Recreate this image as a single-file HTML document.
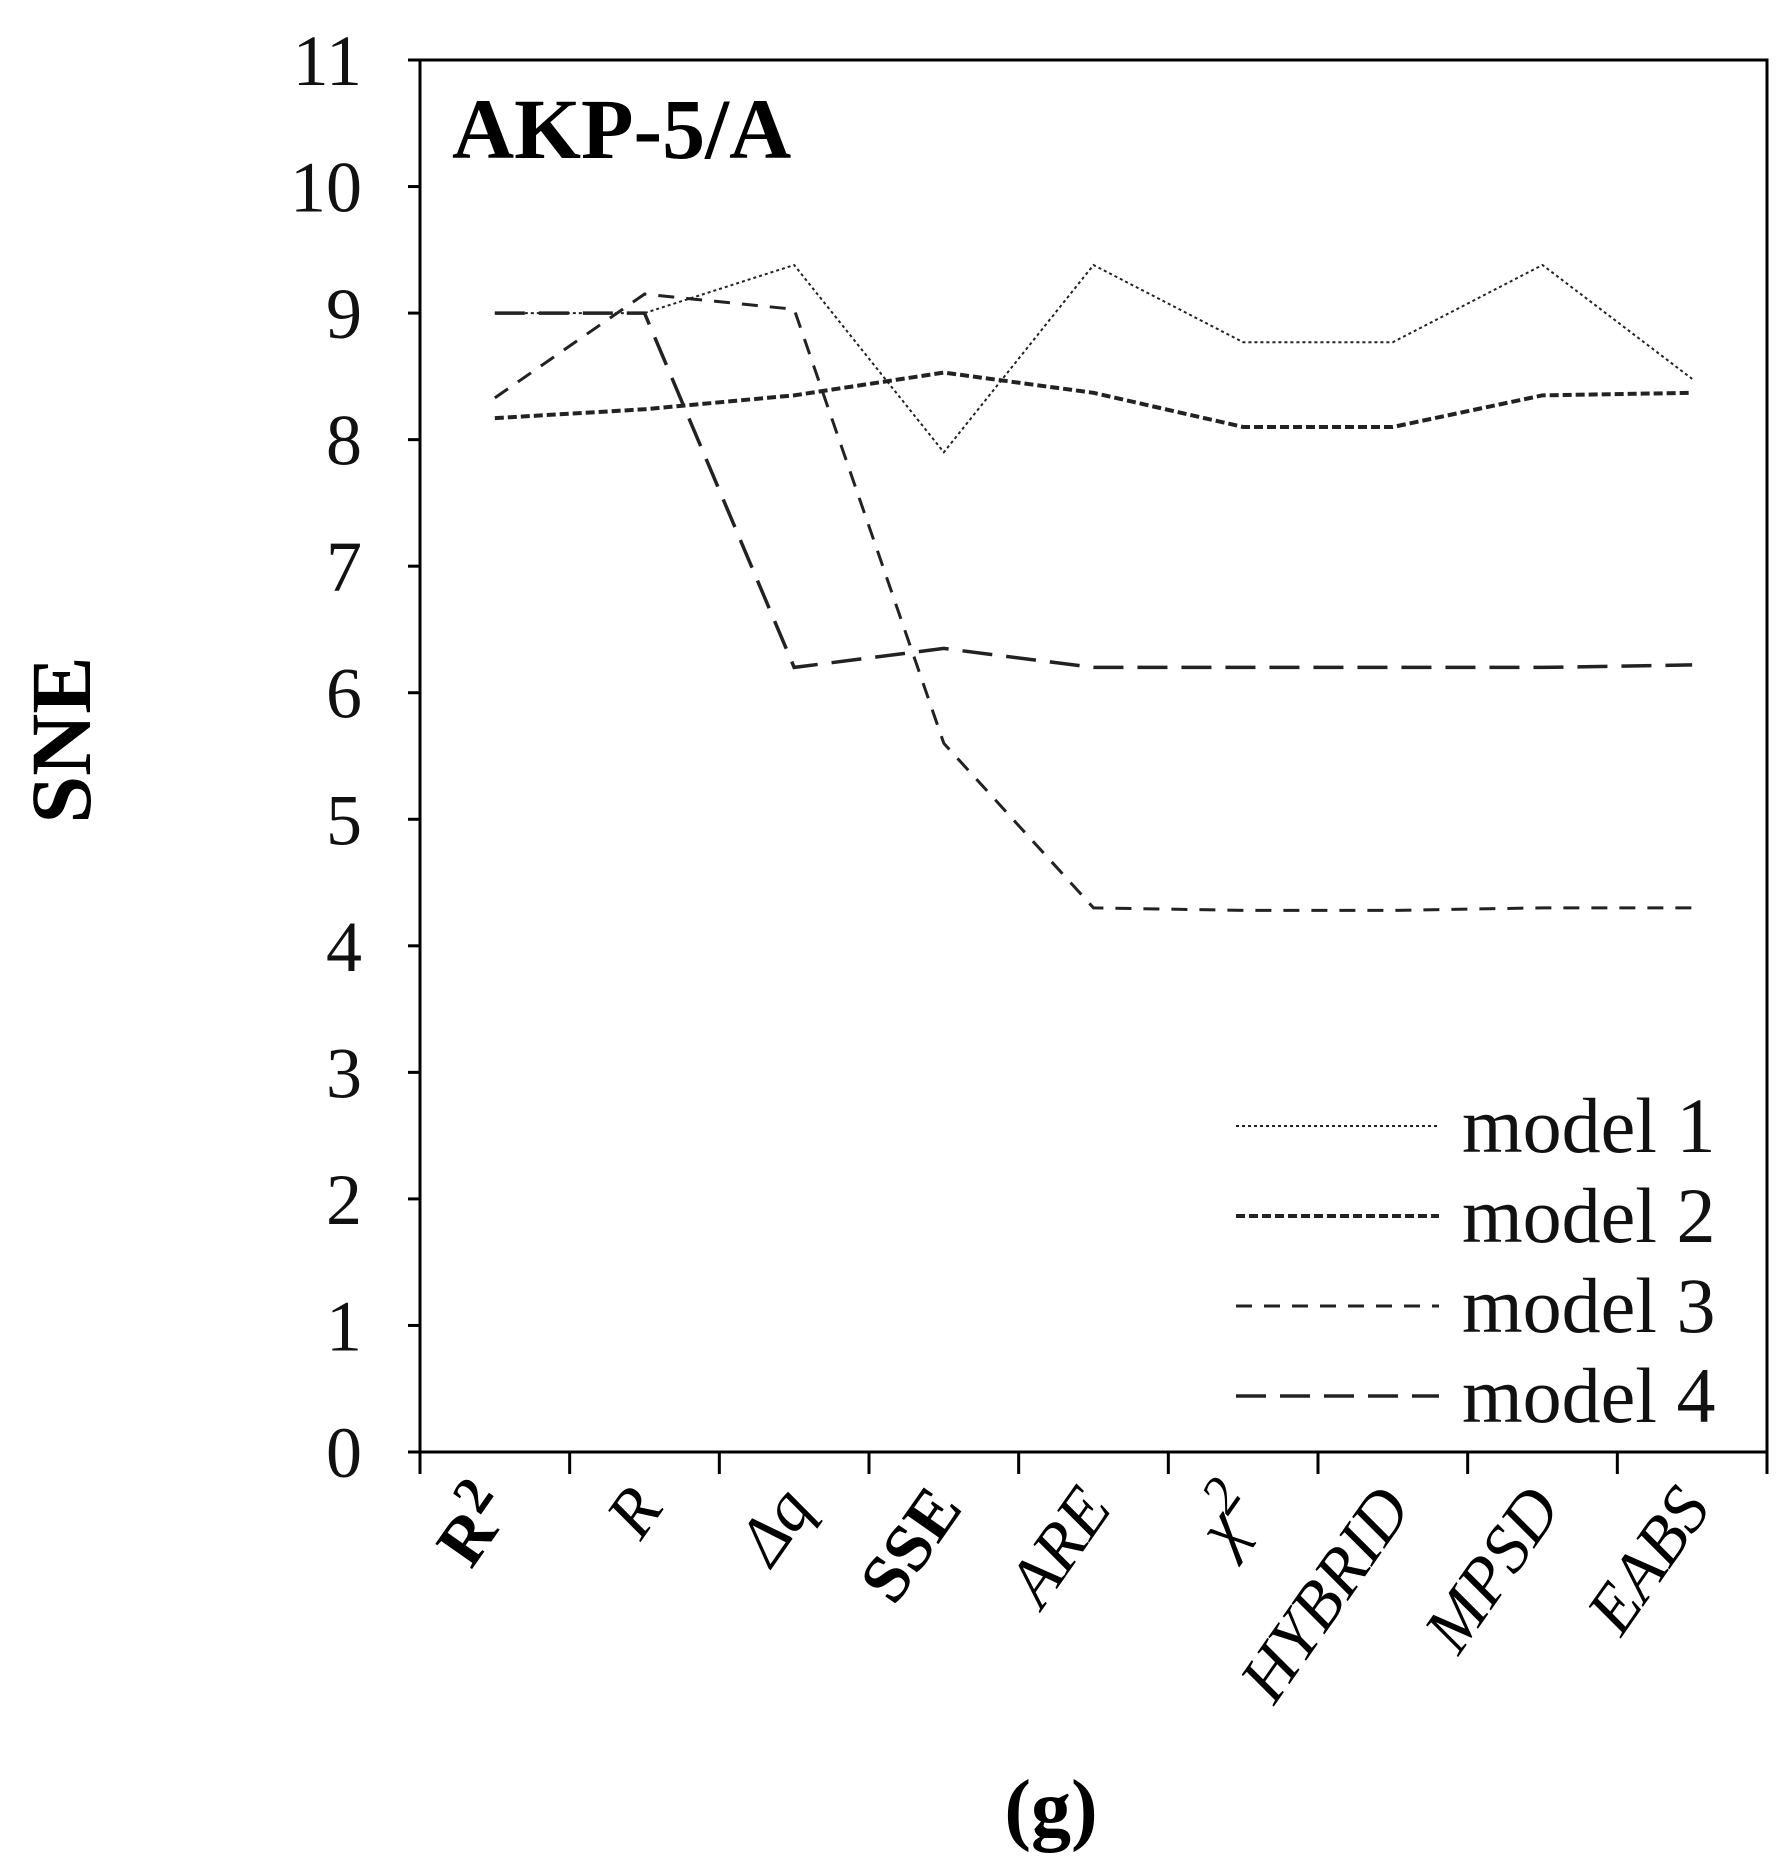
<!DOCTYPE html>
<html><head><meta charset="utf-8"><style>
html,body{margin:0;padding:0;background:#fff}
svg{display:block;font-family:"Liberation Serif",serif}
</style></head><body>
<svg id="chart" width="1791" height="1871" viewBox="0 0 1791 1871">
<rect x="0" y="0" width="1791" height="1871" fill="#fff"/>
<g id="plot"></g>
</svg>
<script>
const categories = ["R2","R","Δq","SSE","ARE","χ2","HYBRID","MPSD","EABS"];
const model1 = [9.0, 9.0, 9.38, 7.9, 9.38, 8.77, 8.77, 9.38, 8.48];
const model2 = [8.17, 8.24, 8.35, 8.53, 8.37, 8.1, 8.1, 8.35, 8.37];
const model3 = [8.33, 9.15, 9.03, 5.6, 4.3, 4.28, 4.28, 4.3, 4.3];
const model4 = [9.0, 9.0, 6.2, 6.35, 6.2, 6.2, 6.2, 6.2, 6.22];
const yTicks = [0,1,2,3,4,5,6,7,8,9,10,11];
const seriesNames = ["model 1","model 2","model 3","model 4"];

const NS="http://www.w3.org/2000/svg";
const g=document.getElementById('plot');
const L=420,R=1767,T=60,B=1452,yMax=11;
const bw=(R-L)/categories.length;
const xS=i=>L+(i+0.5)*bw;
const yS=v=>B-(v/yMax)*(B-T);
function mk(tag,attrs,parent){const e=document.createElementNS(NS,tag);for(const k in attrs)e.setAttribute(k,attrs[k]);(parent||g).appendChild(e);return e;}

let fr=mk('rect',{x:L,y:T,width:R-L,height:B-T,fill:'none',stroke:'#000','stroke-width':3});



yTicks.forEach(v=>{
  const y=yS(v);
  let t=mk('line',{x1:L-12,x2:L,y1:y,y2:y,stroke:'#000','stroke-width':3});
  
  
  let tx=mk('text',{x:L-58,y:y+25,'text-anchor':'end','font-size':72,fill:'#111'});
  tx.textContent=v;
  
  
});
for(let i=0;i<=categories.length;i++){
  const x=L+i*bw;
  let t=mk('line',{x1:x,x2:x,y1:B,y2:B+22,stroke:'#000','stroke-width':3});
  
  
}
const styles={"R2":["bold","normal"],"R":["normal","italic"],"Δq":["normal","italic"],"SSE":["bold","normal"]};
categories.forEach((c,i)=>{
  const x=xS(i)+20,y=1508;
  const st=styles[c]||["normal","italic"];
  let tx=mk('text',{x:x,y:y,'text-anchor':'end','font-size':68,'font-weight':st[0],'font-style':st[1],transform:`rotate(-55 ${x} ${y})`});
  if(c==="R2"||c==="χ2"){
    tx.textContent=c[0];
    let s=mk('tspan',{dy:-24,'font-size':54},tx);s.textContent='2';
  } else tx.textContent=c;
  
  
});

const series=[model1,model2,model3,model4];
const dashes=["3 3","9 4","16 12","30 14"];
const widths=[2,4,3,3.5];
series.forEach((s,k)=>{
  const d=s.map((v,i)=>(i?'L':'M')+xS(i)+' '+yS(v)).join(' ');
  let p=mk('path',{d:d,fill:'none',stroke:'#222','stroke-width':widths[k],'stroke-dasharray':dashes[k]});
  
  
  const ly=1128+k*90;
  let ll=mk('line',{x1:1236,x2:1439,y1:ly-2,y2:ly-2,stroke:'#222','stroke-width':widths[k],'stroke-dasharray':dashes[k]});
  
  
  let lt=mk('text',{x:1462,y:ly+24,'font-size':78,fill:'#111'});
  lt.textContent=seriesNames[k];
  
  
});

let title=mk('text',{x:452,y:158,'font-size':86,'font-weight':'bold'});
title.textContent='AKP-5/A';



let yl=mk('text',{x:90,y:740,'font-size':86,'font-weight':'bold','text-anchor':'middle',transform:'rotate(-90 90 740)'});
yl.textContent='SNE';



let cap=mk('text',{x:1051,y:1835,'font-size':80,'font-weight':'bold','text-anchor':'middle'});
cap.textContent='(g)';


</script>
</body></html>
